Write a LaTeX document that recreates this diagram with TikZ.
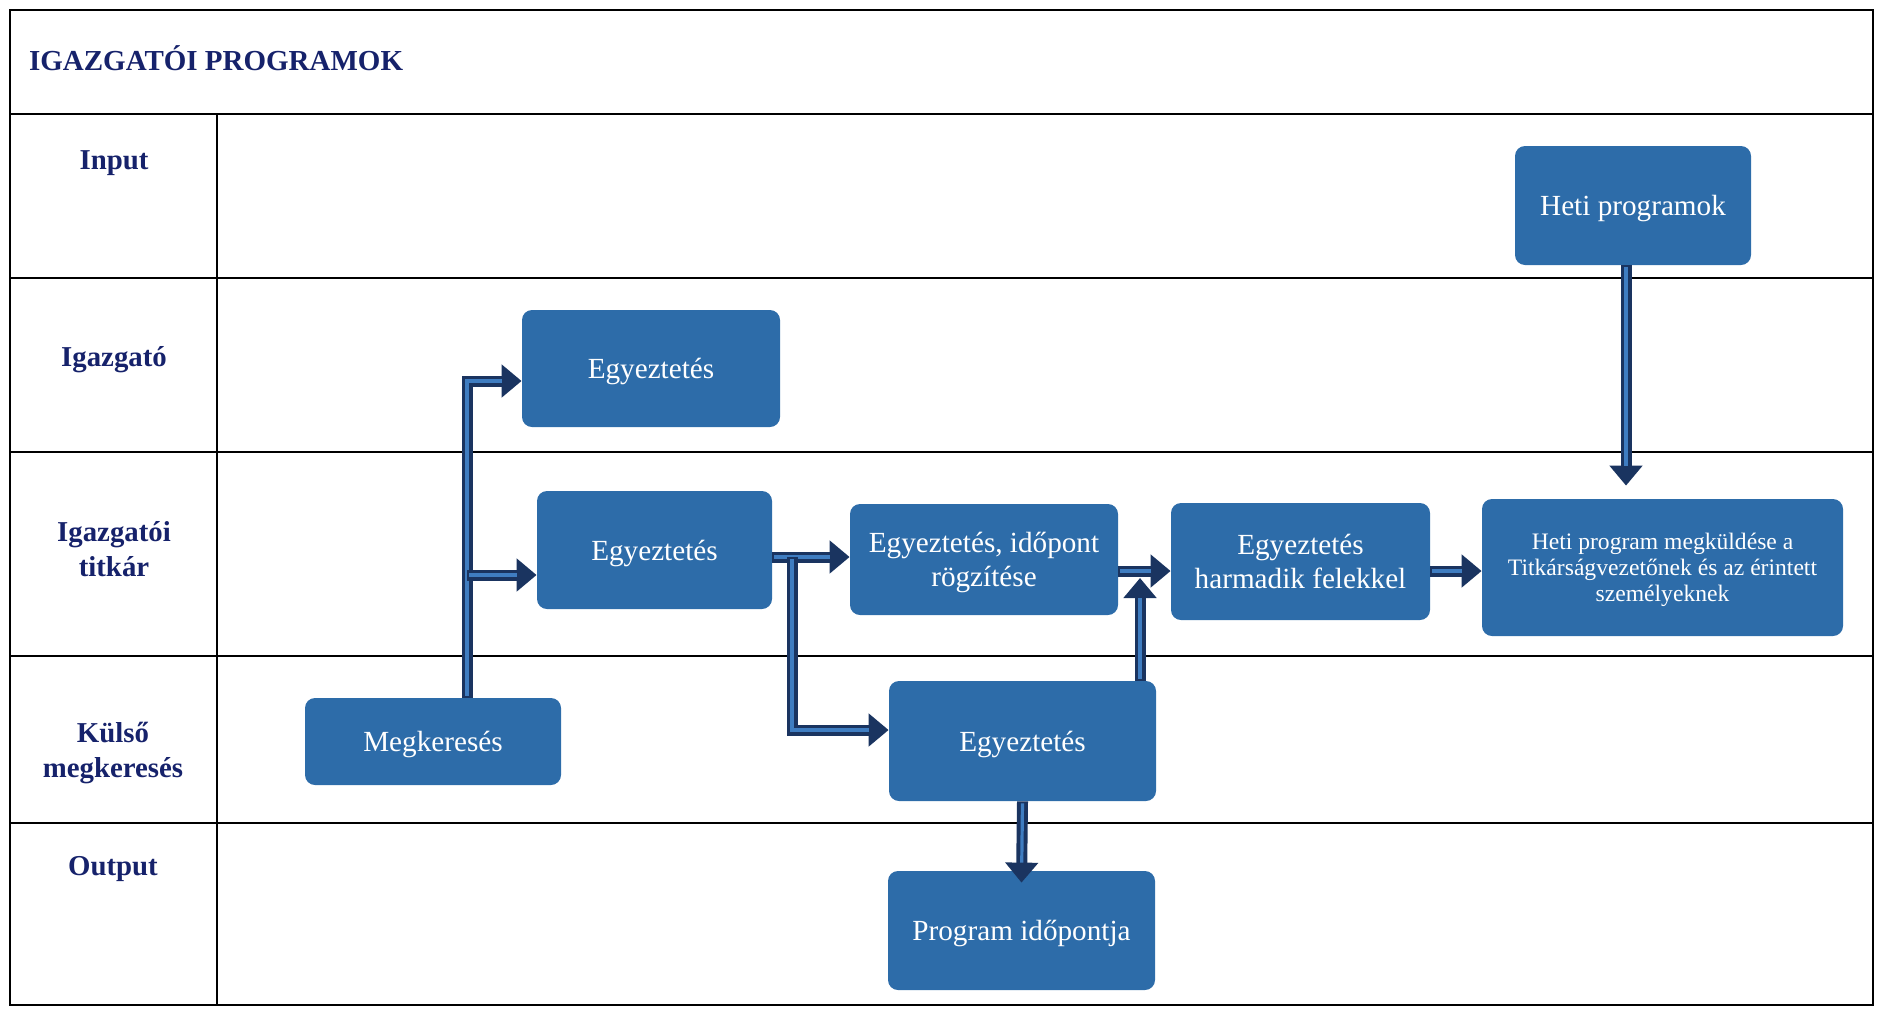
\documentclass[tikz,border=0pt]{standalone}
\usepackage{fontspec}
\setmainfont{Liberation Serif}
\usetikzlibrary{arrows.meta,calc}
\definecolor{boxblue}{HTML}{2D6CA9}
\definecolor{arrdark}{HTML}{1A3460}
\definecolor{arrlight}{HTML}{3F7DC1}
\definecolor{navy}{HTML}{16226B}
\begin{document}
\begin{tikzpicture}[x=0.5pt,y=-0.5pt,
  box/.style={fill=boxblue, rounded corners=5pt, text=white, align=center,
    font=\fontsize{14.6}{16.8}\selectfont, inner sep=2pt, text depth=0pt},
  smallbox/.style={box, font=\fontsize{11.8}{13}\selectfont},
  lane/.style={text=navy, font=\bfseries\fontsize{14.4}{17.4}\selectfont, align=center},
  flow/.style={draw=arrdark, line width=5.5pt, -{Triangle[width=16pt,length=10pt]},
    postaction={draw=arrlight, line width=1.6pt, -, shorten >=10pt, shorten <=1pt}},
  grid/.style={draw=black, line width=0.9pt}]
\useasboundingbox (0,0) rectangle (1877,1018);
% table
\draw[grid] (10,10) rectangle (1873,1005);
\draw[grid] (10,114) -- (1873,114);
\draw[grid] (10,278) -- (1873,278);
\draw[grid] (10,452) -- (1873,452);
\draw[grid] (10,656) -- (1873,656);
\draw[grid] (10,823) -- (1873,823);
\draw[grid] (217,114) -- (217,1005);
% title and lane labels
\node[anchor=west, text=navy, font=\bfseries\fontsize{14.5}{17}\selectfont] (title) at (22,58) {IGAZGATÓI PROGRAMOK};
\node[lane] (lin) at (114,163) {Input};
\node[lane] (lig) at (114,360) {Igazgató};
\node[lane] (lti) at (114,549) {Igazgatói\\titkár};
\node[lane] (lku) at (113,753) {Külső\\megkeresés};
\node[lane] (lou) at (113,869) {Output};
% boxes
\node[box, minimum width=118pt, minimum height=59.5pt] (heti) at (1633,205.5) {Heti programok};
\node[box, minimum width=129pt, minimum height=58.5pt] (eg1) at (651,368.5) {Egyeztetés};
\node[box, minimum width=117.5pt, minimum height=59pt] (eg2) at (654.5,550) {Egyeztetés};
\node[box, minimum width=134pt, minimum height=55.5pt] (eg3) at (984,559.5) {Egyeztetés, időpont\\rögzítése};
\node[box, minimum width=129.5pt, minimum height=58.5pt] (eg5) at (1300.5,561.5) {Egyeztetés\\harmadik felekkel};
\node[smallbox, minimum width=180.5pt, minimum height=68.5pt] (eg6) at (1662.5,567.5) {Heti program megküldése a\\Titkárságvezetőnek és az érintett\\személyeknek};
\node[box, minimum width=128pt, minimum height=43.5pt] (mk) at (433,741.5) {Megkeresés};
\node[box, minimum width=133.5pt, minimum height=60pt] (eg4) at (1022.5,741) {Egyeztetés};
\node[box, minimum width=133.5pt, minimum height=59.5pt] (prog) at (1021.5,930.5) {Program időpontja};
% helper coordinates
\coordinate (v1) at (467,0);
\coordinate (v2) at (792,0);
\coordinate (v3) at (1140,0);
\coordinate (v4) at (1626,0);
\coordinate (h1) at (0,381);
\coordinate (h2) at (0,575);
\coordinate (h3) at (0,557);
\coordinate (h4) at (0,730);
\coordinate (h5) at (0,571);
% connectors
\draw[flow] (mk.north -| v1) |- (eg1.west |- h1);
\draw[flow] (v1 |- h2) -- (eg2.west |- h2);
\draw[flow] (eg2.east |- h3) -- (eg3.west |- h3);
\draw[flow] (v2 |- h3) |- (eg4.west |- h4);
\draw[flow] (eg3.east |- h5) -- (eg5.west |- h5);
\draw[flow] (eg4.north -| v3) -- ($(v3 |- h5)+(0,7)$);
\draw[flow] (eg5.east |- h5) -- (eg6.west |- h5);
\draw[flow] (heti.south -| v4) -- ($(v4 |- eg6.north)+(0,-13)$);
\draw[flow] (eg4.south) -- ($(prog.north)+(0,12)$);
\end{tikzpicture}
\end{document}
